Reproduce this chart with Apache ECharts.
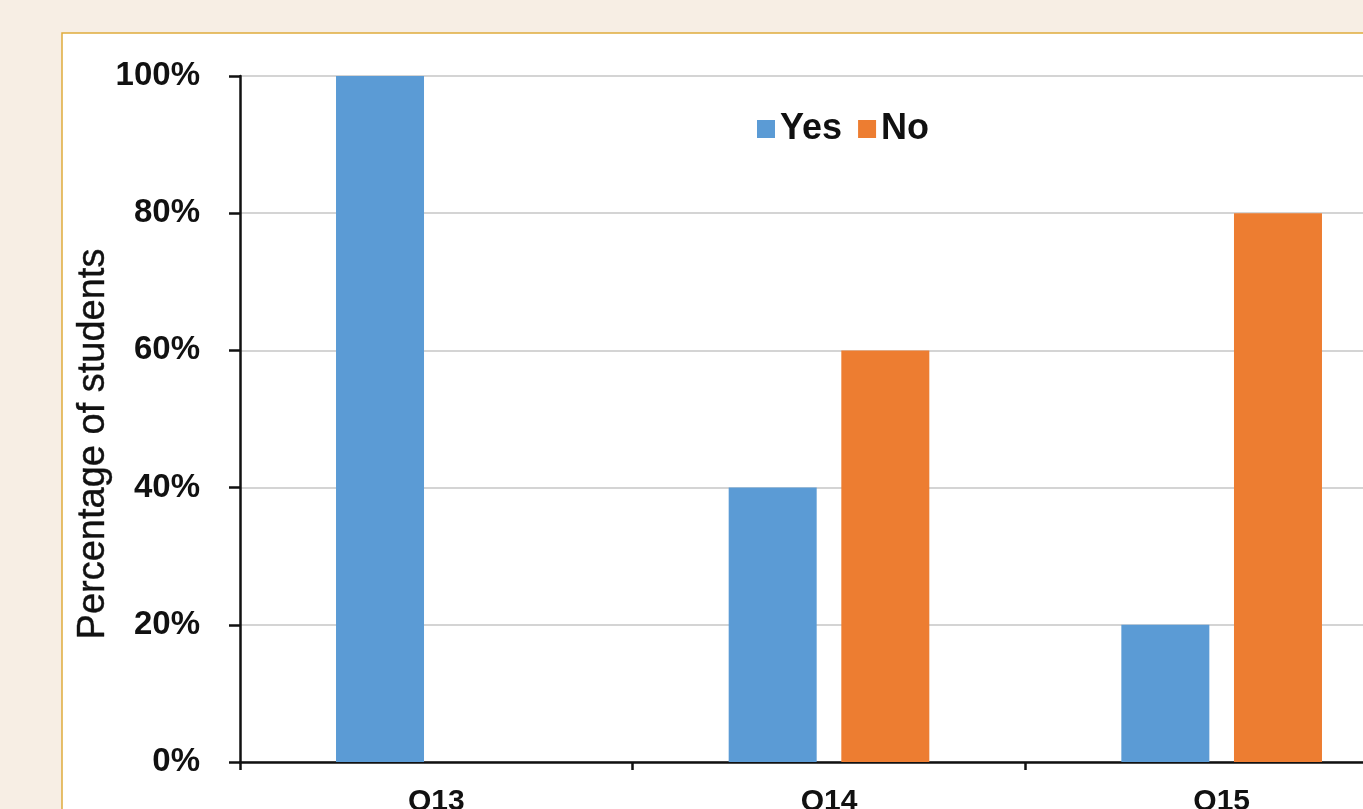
<!DOCTYPE html>
<html>
<head>
<meta charset="utf-8">
<script src="https://cdn.jsdelivr.net/npm/echarts@6/dist/echarts.min.js"></script>
<style>
html,body{margin:0;padding:0;background:#f7eee4;}
#c{width:1363px;height:809px;}
</style>
</head>
<body>
<div id="c"></div>
<script>
var categories = ['Q13', 'Q14', 'Q15'];
var yesValues = [100, 40, 20];
var noValues = [0, 60, 80];
var seriesNames = ['Yes', 'No'];
var yAxisTitle = 'Percentage of students';

var chart = echarts.init(document.getElementById('c'));
var FONT = '"Liberation Sans", Arial, sans-serif';
chart.setOption({
  backgroundColor: '#f7eee4',
  animation: false,
  graphic: [
    {type: 'rect', shape: {x: 62, y: 33, width: 1400, height: 900}, style: {fill: '#ffffff', stroke: '#e0ac3c', lineWidth: 1.5}, z: -10},
    {type: 'text', x: 94, y: 444, rotation: Math.PI / 2,
     style: {text: yAxisTitle, font: '38px ' + FONT, fill: '#111', align: 'center', verticalAlign: 'middle', stroke: '#111', lineWidth: 0.4}}
  ],
  legend: {
    data: seriesNames,
    left: 752, top: 106,
    itemWidth: 18, itemHeight: 18, itemGap: 16,
    icon: 'rect',
    textStyle: {fontFamily: FONT, fontWeight: 'bold', fontSize: 36, color: '#111'}
  },
  grid: {left: 240, top: 76, height: 686, width: 1178, containLabel: false, outerBoundsMode: 'none'},
  xAxis: {
    type: 'category', data: categories,
    axisLine: {lineStyle: {color: '#111', width: 2.5}},
    axisTick: {show: true, length: 8, lineStyle: {color: '#111', width: 2.5}},
    axisLabel: {fontFamily: FONT, fontWeight: 'bold', fontSize: 30, color: '#111', margin: 25}
  },
  yAxis: {
    type: 'value', min: 0, max: 100, interval: 20,
    axisLine: {show: true, lineStyle: {color: '#111', width: 2.5}},
    axisTick: {show: true, length: 11, lineStyle: {color: '#111', width: 2.5}},
    splitLine: {lineStyle: {color: '#d4d4d4', width: 2}},
    axisLabel: {formatter: '{value}%', fontFamily: FONT, fontWeight: 'bold', fontSize: 33, color: '#111', margin: 40}
  },
  series: [
    {name: seriesNames[0], type: 'bar', data: yesValues, barWidth: 88, barGap: '28%', itemStyle: {color: '#5b9bd5'}},
    {name: seriesNames[1], type: 'bar', data: noValues, barWidth: 88, barGap: '28%', itemStyle: {color: '#ed7d31'}}
  ]
});
</script>
</body>
</html>
